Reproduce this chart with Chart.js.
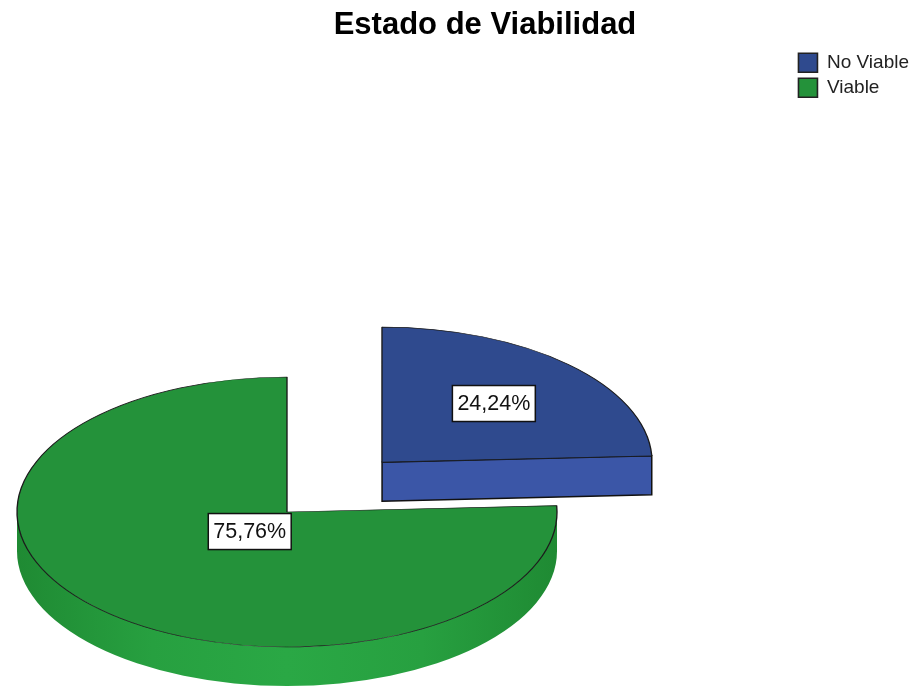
<!DOCTYPE html>
<html>
<head>
<meta charset="utf-8">
<script src="https://cdn.jsdelivr.net/npm/chart.js@4.4.1/dist/chart.umd.min.js"></script>
<style>
  html, body { margin: 0; padding: 0; background: #fff; }
  #wrap { width: 924px; height: 687px; }
</style>
</head>
<body>
<div id="wrap"><canvas id="chart1"></canvas></div>
<script>
var categories = ['No Viable', 'Viable'];
var percents = [24.24, 75.76];

var topColors = ['#2f4a8e', '#24923a'];
var FONT = '"Liberation Sans", Arial, sans-serif';
var EXPLODE = 0.51; // pull-out of the first slice, as a share of the radius

// flattened pie with a rim, drawn around chart.js own arcs
var pie3d = {
  id: 'pie3d',
  geo: function (chart) {
    var o = chart.options.plugins.pie3d;
    var arcs = chart.getDatasetMeta(0).data;
    var R = arcs[0].outerRadius;
    var sx = o.rx / R, sy = o.ry / R;
    return arcs.map(function (arc) {
      var h = (arc.startAngle + arc.endAngle) / 2;
      var off = (arc.options.offset || 0) / 4;
      var t = off * (2 - Math.sin(Math.min(Math.PI, arc.circumference)));
      return {
        arc: arc, h: h, sx: sx, sy: sy,
        cx: o.cx + Math.cos(h) * t * sx,
        cy: o.cy + Math.sin(h) * t * sy
      };
    });
  },
  beforeDatasetsDraw: function (chart) {
    var o = chart.options.plugins.pie3d;
    var ctx = chart.ctx;
    var g = this.geo(chart);
    var d = o.depth;
    g.forEach(function (s, i) {
      var a1 = s.arc.startAngle, a2 = s.arc.endAngle;
      var lo = Math.max(a1, 0), hi = Math.min(a2, Math.PI);
      if (hi > lo) {
        var grad = ctx.createLinearGradient(s.cx - o.rx, 0, s.cx + o.rx, 0);
        o.sideStops[i].forEach(function (c, k, arr) {
          grad.addColorStop(k / (arr.length - 1), c);
        });
        ctx.beginPath();
        ctx.ellipse(s.cx, s.cy, o.rx, o.ry, 0, lo, hi, false);
        ctx.ellipse(s.cx, s.cy + d, o.rx, o.ry, 0, hi, lo, true);
        ctx.closePath();
        ctx.fillStyle = grad;
        ctx.fill();
      }
      [[a2, Math.cos(a2) > 0.001], [a1, Math.cos(a1) < -0.001]].forEach(function (f) {
        if (!f[1]) return;
        var px = s.cx + o.rx * Math.cos(f[0]), py = s.cy + o.ry * Math.sin(f[0]);
        ctx.beginPath();
        ctx.moveTo(s.cx, s.cy);
        ctx.lineTo(px, py);
        ctx.lineTo(px, py + d);
        ctx.lineTo(s.cx, s.cy + d);
        ctx.closePath();
        ctx.fillStyle = o.faceColors[i];
        ctx.fill();
        ctx.lineWidth = 1.5;
        ctx.strokeStyle = '#111';
        ctx.stroke();
      });
    });
    var a0 = g[0].arc;
    ctx.save();
    ctx.translate(o.cx, o.cy);
    ctx.scale(g[0].sx, g[0].sy);
    ctx.translate(-a0.x, -a0.y);
  },
  afterDatasetsDraw: function (chart) {
    var o = chart.options.plugins.pie3d;
    var ctx = chart.ctx;
    ctx.restore();
    var g = this.geo(chart);
    var vals = chart.data.datasets[0].data;
    ctx.save();
    ctx.font = o.labelFont;
    ctx.textAlign = 'center';
    ctx.textBaseline = 'middle';
    g.forEach(function (s, i) {
      var txt = vals[i].toFixed(2).replace('.', ',') + '%';
      var f = o.labelAt[i];
      var x = s.cx + f * o.rx * Math.cos(s.h);
      var y = s.cy + f * o.ry * Math.sin(s.h);
      var w = ctx.measureText(txt).width + 10, hh = 36;
      ctx.fillStyle = '#fff';
      ctx.fillRect(x - w / 2, y - hh / 2, w, hh);
      ctx.lineWidth = 1.5;
      ctx.strokeStyle = '#111';
      ctx.strokeRect(x - w / 2, y - hh / 2, w, hh);
      ctx.fillStyle = '#111';
      ctx.fillText(txt, x, y + 1);
    });
    ctx.restore();
  }
};

new Chart('chart1', {
  type: 'pie',
  data: {
    labels: categories,
    datasets: [{
      data: percents,
      backgroundColor: topColors,
      borderColor: '#1a1a1a',
      borderWidth: 0.8,
      hoverOffset: 0,
      clip: false,
      offset: function (c) {
        var a = c.chart.chartArea;
        if (c.dataIndex !== 0 || !a) return 0;
        var m = Math.min(a.width, a.height);
        return 4 * EXPLODE * (m - 1) / (2 + 4 * EXPLODE);
      }
    }]
  },
  plugins: [pie3d],
  options: {
    responsive: true,
    maintainAspectRatio: false,
    animation: false,
    events: [],
    layout: { padding: { left: 51, right: 5, top: 0, bottom: 0 } },
    plugins: {
      title: {
        display: true,
        text: 'Estado de Viabilidad',
        color: '#000',
        font: { size: 31, weight: 'bold', family: FONT },
        padding: { top: 7, bottom: 3 }
      },
      legend: {
        position: 'right',
        align: 'start',
        fullSize: false,
        labels: {
          boxWidth: 19,
          boxHeight: 19,
          padding: 6,
          color: '#222',
          font: { size: 19, family: FONT },
          generateLabels: function (chart) {
            var items = Chart.overrides.doughnut.plugins.legend.labels.generateLabels(chart);
            items.forEach(function (it) { it.lineWidth = 1.6; it.strokeStyle = '#222'; });
            return items;
          }
        }
      },
      tooltip: { enabled: false },
      pie3d: {
        cx: 287, cy: 512, rx: 270, ry: 135, depth: 39,
        faceColors: ['#3b56a7', '#2aa443'],
        sideStops: [
          ['#3b56a7', '#3b56a7'],
          ['#1f8a33', '#27a040', '#2aa845', '#27a040', '#1f8a33']
        ],
        labelAt: [0.6, 0.2],
        labelFont: '21.5px ' + FONT
      }
    }
  }
});
</script>
</body>
</html>
